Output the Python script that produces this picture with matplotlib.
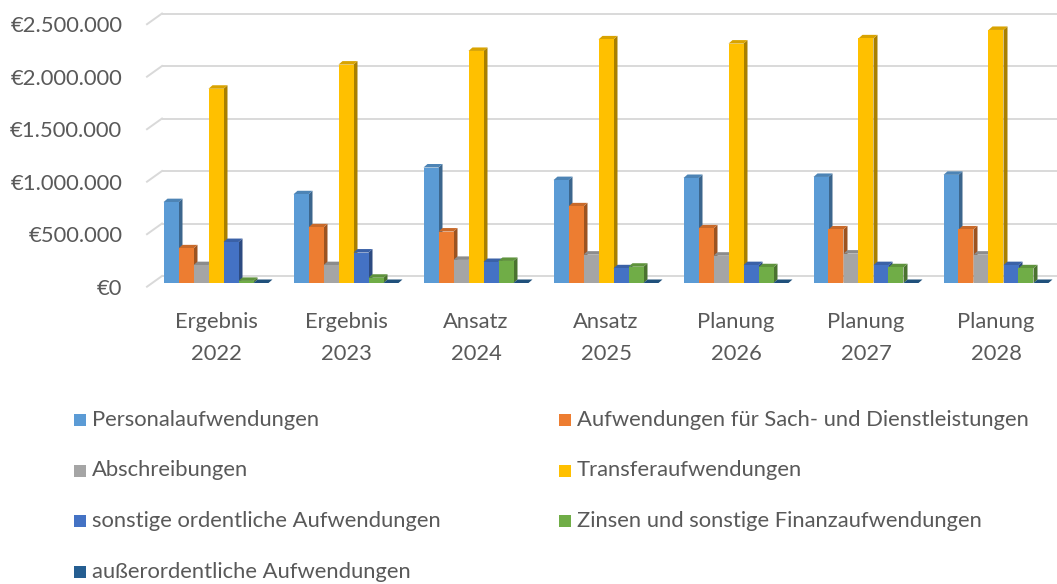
import matplotlib
matplotlib.use("Agg")
import matplotlib.pyplot as plt
import numpy as np
from matplotlib.patches import Polygon, Rectangle


# ── data ─────────────────────────────────────────────────────────────────────

categories = ["Ergebnis\n2022", "Ergebnis\n2023", "Ansatz\n2024", "Ansatz\n2025",
              "Planung\n2026", "Planung\n2027", "Planung\n2028"]

series_names = [
    "Personalaufwendungen",
    "Aufwendungen für Sach- und Dienstleistungen",
    "Abschreibungen",
    "Transferaufwendungen",
    "sonstige ordentliche Aufwendungen",
    "Zinsen und sonstige Finanzaufwendungen",
    "außerordentliche Aufwendungen",
]

personal = [770000, 845000, 1100000, 980000, 1000000, 1010000, 1030000]
sach = [330000, 530000, 490000, 730000, 520000, 510000, 510000]
abschreibungen = [170000, 170000, 220000, 270000, 260000, 280000, 270000]
transfer = [1850000, 2080000, 2210000, 2320000, 2280000, 2330000, 2410000]
sonstige = [390000, 290000, 200000, 140000, 170000, 170000, 170000]
zinsen = [20000, 50000, 210000, 155000, 150000, 150000, 140000]
ausserordentlich = [0, 0, 0, 0, 0, 0, 0]

y_ticks = [0, 500000, 1000000, 1500000, 2000000, 2500000]

colors = ["#5B9BD5", "#ED7D31", "#A5A5A5", "#FFC000", "#4472C4", "#70AD47", "#255E91"]
TEXT = "#595959"
GRID = "#d9d9d9"
FS = 15.8


def shade(hex_color, f):
    rgb = np.array(matplotlib.colors.to_rgb(hex_color))
    return tuple(rgb * f)


def euro(v):
    return "€" + f"{int(round(v)):,}".replace(",", ".")


# ── figure / axes geometry (pixels of a 1057x584 canvas) ────────────────────

W, H = 1057, 584
fig = plt.figure(figsize=(W / 100, H / 100), dpi=100)
plt.rcParams["font.family"] = ["Lato", "DejaVu Sans"]

px_per_cat = 130.0
px_per_meur = 105.0          # pixels per 1 Mio. €
x_lo, x_hi = -0.56, 6.47
y_lo, y_hi = -0.1e6, 2.69e6
zero_px = 283.0              # bar base, from top
left_px = 216 - (0 - x_lo) * px_per_cat
top_px = zero_px - y_hi / 1e6 * px_per_meur
bottom_px = zero_px - y_lo / 1e6 * px_per_meur

ax = fig.add_axes([left_px / W, 1 - bottom_px / H,
                   (x_hi - x_lo) * px_per_cat / W, (bottom_px - top_px) / H])
ax.set_xlim(x_lo, x_hi)
ax.set_ylim(y_lo, y_hi)
for s in ax.spines.values():
    s.set_visible(False)

# depth offsets (pseudo 3D)
back_dy = 7 / px_per_meur * 1e6
front_dy = 3.7 / px_per_meur * 1e6
floor_x0 = (147 - 216) / px_per_cat
floor_x1 = (162 - 216) / px_per_cat
bar_dx = 4.0 / px_per_cat
bar_dy = 3.5 / px_per_meur * 1e6

# ── gridlines (back wall + floor diagonals) ─────────────────────────────────

for g in y_ticks:
    ax.plot([floor_x1, x_hi + 0.2], [g + back_dy, g + back_dy], color=GRID, lw=1.4,
            zorder=0, solid_capstyle="butt")
    ax.plot([floor_x0, floor_x1], [g - front_dy, g + back_dy], color=GRID, lw=1.4,
            zorder=0, clip_on=False)

# ── bars (front, side, top faces) ───────────────────────────────────────────

all_series = [personal, sach, abschreibungen, transfer, sonstige, zinsen, ausserordentlich]
n = len(all_series)
w = 15.0 / px_per_cat
x = np.arange(len(categories))

z = 2
for i in range(len(categories)):
    for k, vals in enumerate(all_series):
        x0 = x[i] - n * w / 2 + k * w
        v = vals[i]
        c = colors[k]
        side = Polygon([(x0 + w, 0), (x0 + w + bar_dx, bar_dy), (x0 + w + bar_dx, v + bar_dy),
                        (x0 + w, v)], closed=True, facecolor=shade(c, 0.66), edgecolor="none",
                       zorder=z)
        top = Polygon([(x0, v), (x0 + bar_dx, v + bar_dy), (x0 + w + bar_dx, v + bar_dy),
                       (x0 + w, v)], closed=True, facecolor=shade(c, 0.85), edgecolor="none",
                      zorder=z)
        ax.add_patch(side)
        ax.add_patch(top)
        ax.bar(x0, v, width=w, align="edge", color=c, edgecolor="none", zorder=z + 0.5)
        z += 1

# ── axis labels ──────────────────────────────────────────────────────────────

ax.set_yticks([g - front_dy for g in y_ticks])
ax.set_yticklabels([euro(g) for g in y_ticks])
ax.tick_params(axis="y", length=0, pad=15, labelsize=FS, labelcolor=TEXT)

ax.set_xticks(x)
ax.set_xticklabels(categories, linespacing=1.72)
ax.tick_params(axis="x", length=0, pad=13.5, labelsize=FS, labelcolor=TEXT)

# ── legend (two columns, row-wise like Excel) ───────────────────────────────

col_x = [74, 559]
row_y = [420, 470.5, 521, 571.5]
for idx, name in enumerate(series_names):
    r, c = divmod(idx, 2)
    mx, my = col_x[c], row_y[r]
    fig.add_artist(Rectangle((mx / W, 1 - (my + 6) / H), 12 / W, 12 / H,
                             transform=fig.transFigure, facecolor=colors[idx],
                             edgecolor="none"))
    fig.text((mx + 18) / W, 1 - my / H, name, fontsize=FS, color=TEXT,
             ha="left", va="center")

fig.savefig("out.png", dpi=100, facecolor="white")
